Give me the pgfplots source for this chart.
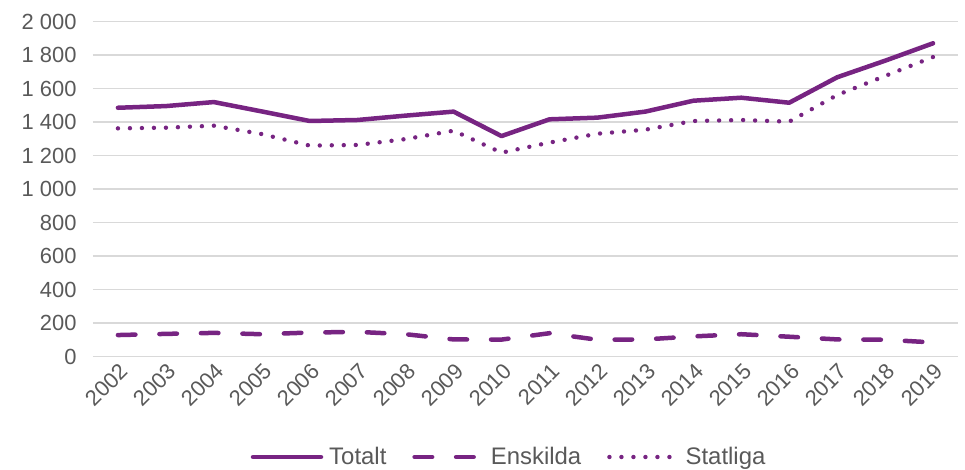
\documentclass[border=0pt]{standalone}
\usepackage{fontspec}
\setmainfont{Liberation Sans}
\usepackage{pgfplots}
\pgfplotsset{compat=1.18}
\definecolor{lila}{RGB}{119,36,130}
\definecolor{txt}{RGB}{89,89,89}
\definecolor{grd}{RGB}{217,217,217}
\begin{document}
\begin{tikzpicture}
\begin{axis}[
  at={(0,0)}, anchor=south west,
  scale only axis, width=865bp, height=335bp,
  xmin=2001.48, xmax=2019.52, ymin=0, ymax=2000,
  axis line style={draw=none},
  major tick length=0pt,
  xtick={2002,...,2019},
  ytick={0,200,...,2000},
  ymajorgrids, grid style={grd, line width=1.5bp},
  tick label style={font=\fontsize{22}{26}\selectfont, text=txt, /pgf/number format/assume math mode=true},
  x tick label style={rotate=45, anchor=north east, /pgf/number format/1000 sep={}, yshift=-1bp},
  y tick label style={/pgf/number format/1000 sep={\ }, xshift=-13bp},
  legend style={draw=none, at={(0.481,-0.30)}, anchor=center, legend columns=3,
    font=\fontsize{24}{28}\selectfont, text=txt,
    /tikz/every odd column/.append style={column sep=4bp},
    /tikz/every even column/.append style={column sep=24bp}},
  legend image code/.code={\draw[#1] (0bp,0bp) -- (68bp,0bp);},
  clip=false,
]
\addplot[lila, line width=4.5bp, line join=round, line cap=round] coordinates {
(2002,1485) (2003,1495) (2004,1519) (2005,1463) (2006,1406) (2007,1412)
(2008,1438) (2009,1462) (2010,1316) (2011,1416) (2012,1426) (2013,1462)
(2014,1527) (2015,1545) (2016,1515) (2017,1667) (2018,1766) (2019,1870)};
\addlegendentry{Totalt}
\addplot[lila, line width=4.5bp, line join=round, line cap=round, dash pattern=on 17.5bp off 24bp] coordinates {
(2002,128) (2003,135) (2004,141) (2005,133) (2006,143) (2007,147)
(2008,133) (2009,102) (2010,101) (2011,139) (2012,100) (2013,102)
(2014,120) (2015,133) (2016,118) (2017,102) (2018,100) (2019,84)};
\addlegendentry{Enskilda}
\addplot[lila, line width=4.4bp, line join=round, line cap=round, dash pattern=on 0bp off 12bp] coordinates {
(2002,1362) (2003,1366) (2004,1378) (2005,1328) (2006,1259) (2007,1263)
(2008,1298) (2009,1348) (2010,1217) (2011,1277) (2012,1330) (2013,1354)
(2014,1406) (2015,1412) (2016,1402) (2017,1561) (2018,1675) (2019,1788)};
\addlegendentry{Statliga}
\end{axis}
\pgfresetboundingbox
\path[use as bounding box] (-93bp,-113.5bp) rectangle (872bp,356.5bp);
\end{tikzpicture}
\end{document}
